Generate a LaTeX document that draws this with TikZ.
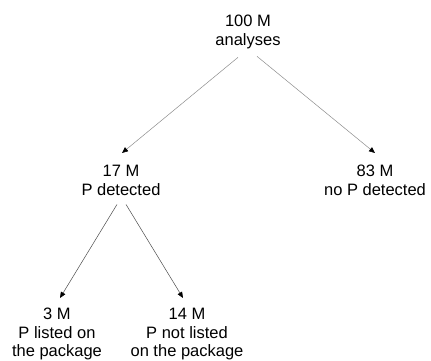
\documentclass[tikz,border=0pt]{standalone}
\usepackage{fontspec}
\setmainfont{Liberation Sans}
\usetikzlibrary{arrows.meta}
\tikzset{
  count/.style={align=center, inner sep=0pt, anchor=north,
    font=\fontsize{16.5}{18.5}\selectfont},
  branch/.style={line width=0.5pt, -{Triangle[length=6pt,width=5pt,color=black]}},
  upper/.style={branch, draw=black!45},
  lower/.style={branch, draw=black!70},
}
\begin{document}
\begin{tikzpicture}[x=1pt,y=-1pt]
  \useasboundingbox (0,0) rectangle (431,360);

  % tree of counts
  \node[count] (all)  at (248,15)  {100 M\\analyses};
  \node[count] (det)  at (121,165) {17 M\\P detected};
  \node[count] (none) at (375,165) {83 M\\no P detected};
  \node[count] (lst)  at (57,308)  {3 M\\P listed on\\the package};
  \node[count] (nlst) at (187,308) {14 M\\P not listed\\on the package};

  % branches
  \draw[upper] ([xshift=-10pt,yshift=-8.5pt]all.south) -- ([xshift=1pt,yshift=12pt]det.north);
  \draw[upper] ([xshift=9pt,yshift=-7.5pt]all.south) -- ([xshift=0pt,yshift=12pt]none.north);
  \draw[lower] ([xshift=-4pt,yshift=-9pt]det.south) -- ([xshift=3pt,yshift=10pt]lst.north);
  \draw[lower] ([xshift=5pt,yshift=-9pt]det.south) -- ([xshift=-4pt,yshift=10pt]nlst.north);
\end{tikzpicture}
\end{document}
